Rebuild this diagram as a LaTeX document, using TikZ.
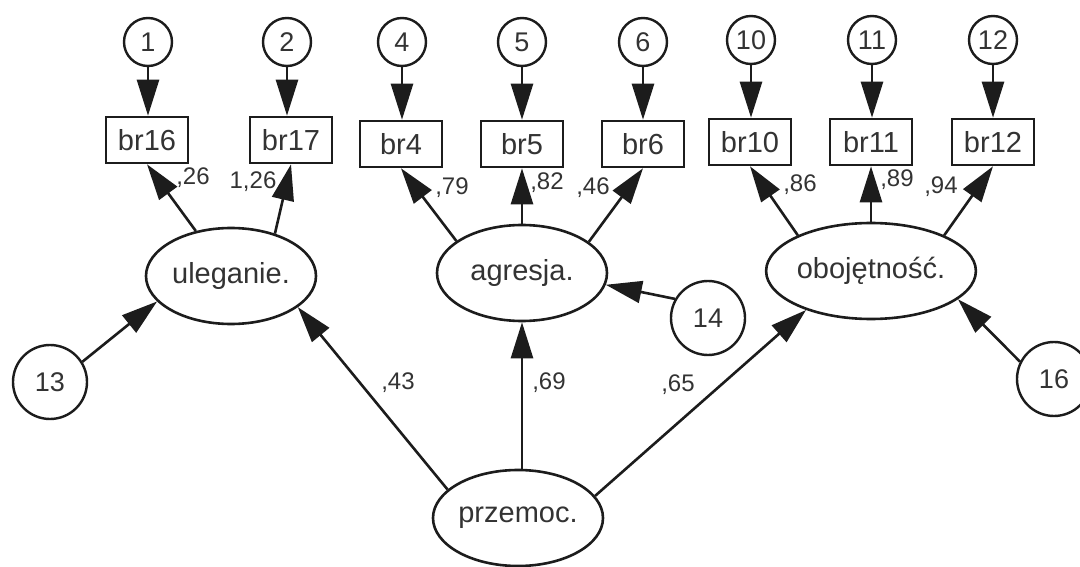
\documentclass[tikz,border=0pt]{standalone}
\usepackage{fontspec}
\setmainfont{Liberation Sans}
\usetikzlibrary{shapes.geometric,arrows.meta}
\definecolor{ink}{HTML}{1C1C1C}
\definecolor{txt}{HTML}{333333}
\begin{document}
\begin{tikzpicture}[x=1pt,y=-1pt,
  every node/.style={text=txt, inner sep=0pt},
  obs/.style={draw=ink, rectangle, line width=2.6pt, minimum width=82pt, minimum height=46pt, font=\fontsize{29}{32}\selectfont},
  err/.style={draw=ink, circle, line width=2.4pt, minimum size=48pt, font=\fontsize{27}{30}\selectfont},
  errbig/.style={err, minimum size=74pt},
  lat/.style={draw=ink, ellipse, line width=2.6pt, minimum width=170pt, minimum height=96pt, font=\fontsize{29}{32}\selectfont},
  conn/.style={draw=ink, line width=2.6pt, -{Triangle[length=36pt,width=22pt]}},
  coef/.style={font=\fontsize{24}{26}\selectfont}
]
\fill[white] (0,0) rectangle (1080,567);
\useasboundingbox (0,0) rectangle (1080,567);

% observed variables
\node[obs] (b16) at (147,140) {br16};
\node[obs] (b17) at (291,140) {br17};
\node[obs] (b4)  at (401,144) {br4};
\node[obs] (b5)  at (522,144) {br5};
\node[obs] (b6)  at (643,144) {br6};
\node[obs] (b10) at (750,142) {br10};
\node[obs] (b11) at (871,142) {br11};
\node[obs] (b12) at (993,142) {br12};

% error terms
\node[err] (e1)  at (148,42) {1};
\node[err] (e2)  at (287,42) {2};
\node[err] (e4)  at (402,42) {4};
\node[err] (e5)  at (522,42) {5};
\node[err] (e6)  at (643,42) {6};
\node[err] (e10) at (751,40) {10};
\node[err] (e11) at (872,40) {11};
\node[err] (e12) at (993,40) {12};
\node[errbig] (e13) at (50,382) {13};
\node[errbig] (e14) at (708,318) {14};
\node[errbig] (e16) at (1054,379) {16};

% latent variables
\node[lat] (ul) at (231,276) {uleganie.};
\node[lat] (ag) at (522,273) {agresja.};
\node[lat] (ob) at (871,271) {obojętność.};
\node[lat] (pz) at (518,518) {przemoc.};

% error arrows
\draw[conn] (e1)  -- (e1 |- b16.north);
\draw[conn] (e2)  -- (e2 |- b17.north);
\draw[conn] (e4)  -- (e4 |- b4.north);
\draw[conn] (e5)  -- (e5 |- b5.north);
\draw[conn] (e6)  -- (e6 |- b6.north);
\draw[conn] (e10) -- (e10 |- b10.north);
\draw[conn] (e11) -- (e11 |- b11.north);
\draw[conn] (e12) -- (e12 |- b12.north);

% loadings
\draw[conn] (ul.128) -- (b16.south);
\draw[conn] (ul.44)  -- (b17.south);
\draw[conn] (ag.154) -- (b4.south);
\draw[conn] (ag.north) -- (b5.south);
\draw[conn] (ag.25)  -- (b6.south);
\draw[conn] (ob.154) -- (b10.south);
\draw[conn] (ob.north) -- (b11.south);
\draw[conn] (ob.26)  -- (b12.south);

% structural paths
\draw[conn] (pz.158) -- (ul.335);
\draw[conn] (pz.north -| ag.south) -- (ag.south);
\draw[conn] (pz.16) -- (ob.211);

% disturbances
\draw[conn] (e13.32)  -- (ul.199);
\draw[conn] (e14.150) -- (ag.352);
\draw[conn] (e16.153) -- (ob.342);

% coefficients
\node[coef] (c1) at (193,178) {,26};
\node[coef] (c2) at (253,182) {1,26};
\node[coef] (c3) at (452,188) {,79};
\node[coef] (c4) at (547,183) {,82};
\node[coef] (c5) at (593,188) {,46};
\node[coef] (c6) at (800,185) {,86};
\node[coef] (c7) at (897,180) {,89};
\node[coef] (c8) at (941,187) {,94};
\node[coef] (c9) at (398,383) {,43};
\node[coef] (c10) at (549,383) {,69};
\node[coef] (c11) at (678,385) {,65};
\end{tikzpicture}
\end{document}
